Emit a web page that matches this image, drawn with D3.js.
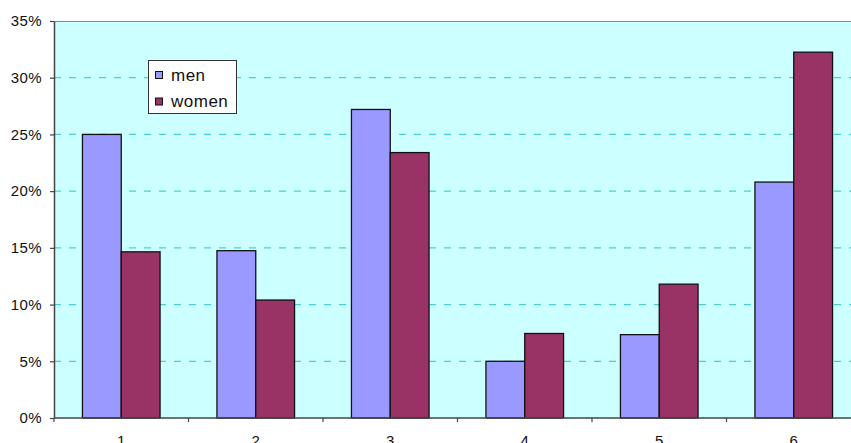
<!DOCTYPE html>
<html>
<head>
<meta charset="utf-8">
<script src="https://cdn.jsdelivr.net/npm/d3@7"></script>
<style>
  html, body { margin: 0; padding: 0; background: #fff; overflow: hidden; }
  svg { display: block; font-family: "Liberation Sans", Arial, sans-serif; }
</style>
</head>
<body>
<svg id="chart" width="851" height="443"></svg>
<script>
const categories = ["1", "2", "3", "4", "5", "6"];
const seriesNames = ["men", "women"];
const men = [0.25, 0.1475, 0.272, 0.05, 0.0735, 0.208];
const women = [0.1465, 0.104, 0.234, 0.0745, 0.118, 0.3225];
const yTicks = [0, 0.05, 0.10, 0.15, 0.20, 0.25, 0.30, 0.35];
const colors = ["#9999FF", "#993366"];

const svg = d3.select("#chart");
const mLeft = 54, mRight = 861, mTop = 21, mBottom = 418;

const x0 = d3.scaleBand().domain(categories).range([mLeft, mRight]).padding(0);
const y = d3.scaleLinear().domain([0, 0.35]).range([mBottom, mTop]);
const groupW = x0.bandwidth() * 0.577;
const x1 = d3.scaleBand().domain(seriesNames).range([0, groupW]).padding(0);

// plot background
svg.append("rect").attr("x", mLeft).attr("y", mTop)
  .attr("width", mRight - mLeft).attr("height", mBottom - mTop)
  .attr("fill", "#CCFFFF");
// top border
svg.append("line").attr("x1", mLeft).attr("x2", mRight).attr("y1", mTop + 0.5).attr("y2", mTop + 0.5)
  .attr("stroke", "#8a8a8a").attr("stroke-width", 1.2);

// gridlines
svg.append("g").selectAll("line").data(yTicks.filter(t => t > 0 && t < 0.35)).join("line")
  .attr("x1", mLeft).attr("x2", mRight)
  .attr("y1", d => y(d)).attr("y2", d => y(d))
  .attr("stroke", "#4CCFCF").attr("stroke-width", 1.2)
  .attr("stroke-dasharray", "7,8");

// bars
const data = categories.map((c, i) => ({ c, vals: [men[i], women[i]] }));
const groups = svg.append("g").selectAll("g").data(data).join("g")
  .attr("transform", d => `translate(${x0(d.c) + (x0.bandwidth() - groupW) / 2},0)`);
groups.selectAll("rect").data(d => d.vals.map((v, j) => ({ v, s: seriesNames[j], j }))).join("rect")
  .attr("x", d => x1(d.s))
  .attr("y", d => y(d.v))
  .attr("width", x1.bandwidth())
  .attr("height", d => y(0) - y(d.v))
  .attr("fill", d => colors[d.j])
  .attr("stroke", "#111").attr("stroke-width", 1.3);

// y axis
const yAxis = d3.axisLeft(y).tickValues(yTicks).tickFormat(d3.format(".0%")).tickSize(4).tickSizeOuter(0);
const ya = svg.append("g").attr("transform", `translate(${mLeft},0)`).call(yAxis);
ya.select(".domain").attr("stroke", "#444").attr("stroke-width", 1.5);
ya.selectAll(".tick line").attr("stroke", "#444").attr("stroke-width", 1.2);
ya.selectAll(".tick text").attr("x", -12).attr("font-size", 15).attr("letter-spacing", 0.4)
  .attr("fill", "#111").attr("font-family", "Liberation Sans, Arial, sans-serif");

// x axis
const xa = svg.append("g").attr("transform", `translate(0,${mBottom})`);
xa.append("line").attr("x1", mLeft).attr("x2", mRight).attr("y1", 0).attr("y2", 0)
  .attr("stroke", "#444").attr("stroke-width", 1.5);
const boundaries = categories.map(c => x0(c)).concat([x0(categories[categories.length - 1]) + x0.bandwidth()]);
xa.selectAll("line.tk").data(boundaries).join("line").attr("class", "tk")
  .attr("x1", d => d).attr("x2", d => d).attr("y1", 0).attr("y2", 4)
  .attr("stroke", "#444").attr("stroke-width", 1.2);
xa.selectAll("text").data(categories).join("text")
  .attr("x", d => x0(d) + x0.bandwidth() / 2).attr("y", 28)
  .attr("text-anchor", "middle").attr("font-size", 15).attr("fill", "#111")
  .text(d => d);

// legend
const lg = svg.append("g");
lg.append("rect").attr("x", 148.5).attr("y", 60.5).attr("width", 88).attr("height", 53)
  .attr("fill", "#fff").attr("stroke", "#333").attr("stroke-width", 1);
seriesNames.forEach((s, i) => {
  const cy = 75 + i * 26.5;
  lg.append("rect").attr("x", 155.5).attr("y", cy - 3.5).attr("width", 7).attr("height", 7)
    .attr("fill", colors[i]).attr("stroke", "#111").attr("stroke-width", 1);
  lg.append("text").attr("x", 171).attr("y", cy + 5.5).attr("font-size", 17)
    .attr("letter-spacing", 0.5).attr("fill", "#111").text(s);
});
</script>
</body>
</html>
